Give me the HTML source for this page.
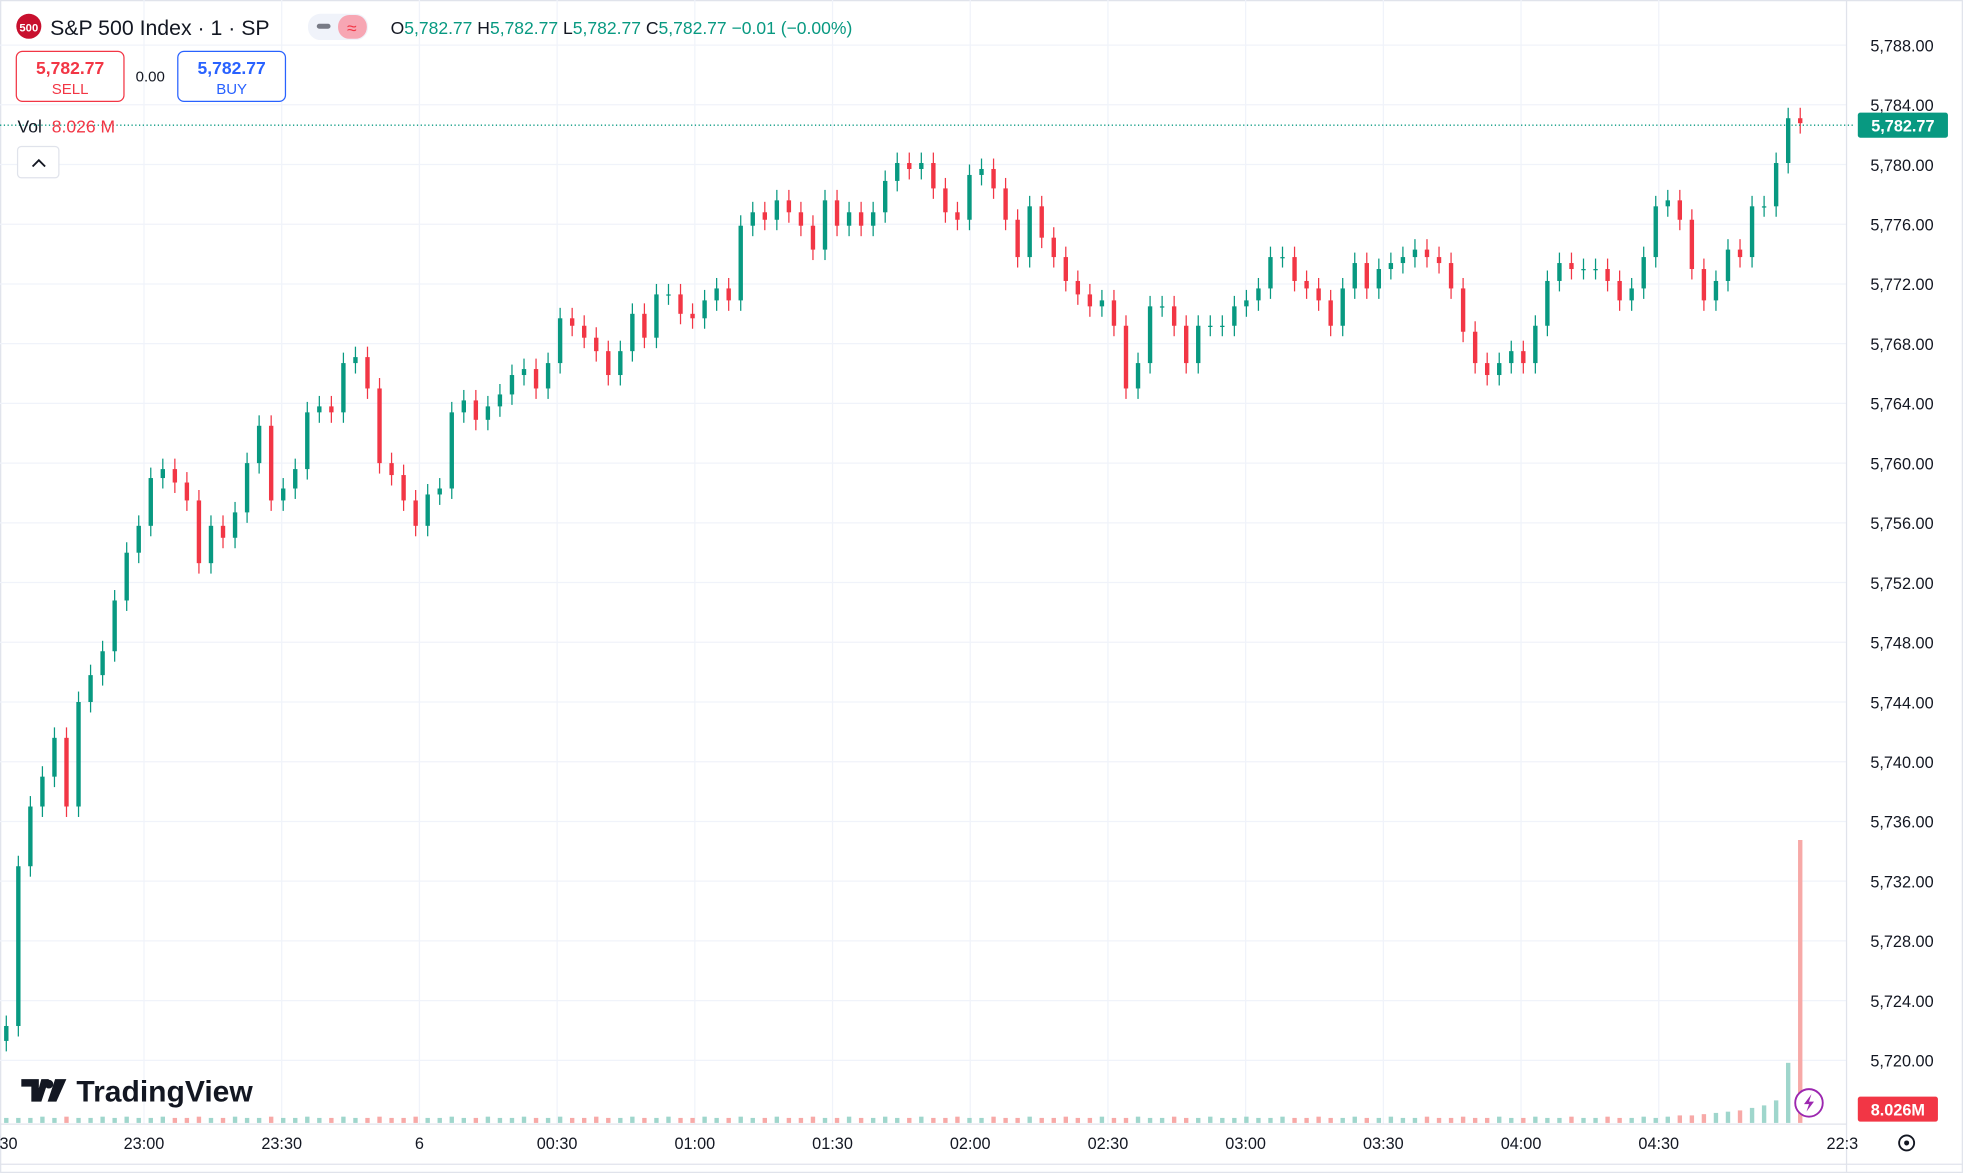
<!DOCTYPE html>
<html><head><meta charset="utf-8"><style>
html,body{margin:0;padding:0;background:#fff;}
svg{display:block;font-family:"Liberation Sans",sans-serif;}
</style></head><body>
<svg id="chart" width="1963" height="1173" viewBox="0 0 1568 937" xmlns="http://www.w3.org/2000/svg">
<rect x="0" y="0" width="1568" height="937" fill="#fff"/>
<rect x="0.5" y="0.5" width="1567" height="936" fill="none" stroke="#e0e3eb"/>
<g id="grid"></g>
<g id="vol"></g>
<g id="candles"></g>
<line x1="0" y1="898" x2="1475" y2="898" stroke="#e0e3eb"/>
<line x1="1475" y1="0" x2="1475" y2="937" stroke="#e0e3eb"/>
<line x1="0" y1="930" x2="1568" y2="930" stroke="#e0e3eb"/>
<g id="yaxis" font-size="13" fill="#131722"></g>
<g id="xaxis" font-size="13" fill="#131722"></g>
<line x1="0" y1="100" x2="1480" y2="100" stroke="#089981" stroke-dasharray="1,2"/>
<rect x="1484" y="90" width="72" height="20" rx="2" fill="#089981"/>
<text x="1520" y="105" font-size="13" fill="#fff" text-anchor="middle" font-weight="bold">5,782.77</text>
<rect x="1484" y="876" width="64" height="20" rx="2" fill="#f23645"/>
<text x="1516" y="891" font-size="13" fill="#fff" text-anchor="middle" font-weight="bold">8.026M</text>
<circle cx="23" cy="21" r="10" fill="#c8102e"/>
<text x="23" y="25" font-size="9" fill="#fff" text-anchor="middle" font-weight="bold">500</text>
<text x="40" y="28" font-size="17" fill="#131722">S&amp;P 500 Index · 1 · SP</text>
<rect x="246" y="11" width="48" height="21" rx="10" fill="#f0f3fa"/>
<rect x="253" y="19" width="11" height="4" rx="2" fill="#787b86"/>
<rect x="270" y="12" width="23" height="19" rx="9" fill="#f7a6b3"/>
<text x="281" y="27" font-size="14" fill="#f23645" text-anchor="middle">≈</text>
<text x="312" y="27" font-size="14" fill="#089981"><tspan fill="#131722">O</tspan>5,782.77 <tspan fill="#131722">H</tspan>5,782.77 <tspan fill="#131722">L</tspan>5,782.77 <tspan fill="#131722">C</tspan>5,782.77 −0.01 (−0.00%)</text>
<g><rect x="13" y="41" width="86" height="40" rx="5" fill="#fff" stroke="#f23645"/>
<text x="56" y="59" font-size="14" fill="#f23645" text-anchor="middle" font-weight="bold">5,782.77</text>
<text x="56" y="75" font-size="12" fill="#f23645" text-anchor="middle">SELL</text></g>
<text x="120" y="65" font-size="12" fill="#131722" text-anchor="middle">0.00</text>
<g><rect x="142" y="41" width="86" height="40" rx="5" fill="#fff" stroke="#2962ff"/>
<text x="185" y="59" font-size="14" fill="#2962ff" text-anchor="middle" font-weight="bold">5,782.77</text>
<text x="185" y="75" font-size="12" fill="#2962ff" text-anchor="middle">BUY</text></g>
<text x="14" y="106" font-size="14" fill="#131722">Vol <tspan fill="#f23645" dx="4">8.026 M</tspan></text>
<g><rect x="14" y="117" width="33" height="25" rx="3" fill="#fff" stroke="#e0e3eb"/>
<path d="M26 133 L31 128 L36 133" fill="none" stroke="#131722" stroke-width="1.5"/></g>
<g>
<path d="M17 862 h14 v18 h-6 v-12 h-8z M33 862 h6 l-6 18 h-5z" fill="#131722"/>
<circle cx="39" cy="866" r="3.5" fill="#131722"/>
<path d="M44 862 h9 l-8 18 h-7z" fill="#131722"/>
<text x="61" y="880" font-size="24" font-weight="bold" fill="#131722">TradingView</text></g>
<g><circle cx="1445" cy="881" r="11" fill="#fff" stroke="#9c27b0" stroke-width="1.5"/>
<path d="M1447 874 l-6 8 h4 l-2 6 l6 -8 h-4z" fill="#9c27b0"/></g>
<g><circle cx="1523" cy="913" r="6" fill="none" stroke="#131722" stroke-width="1.5"/><circle cx="1523" cy="913" r="2" fill="#131722"/></g>
</svg>
<script>
const priceTicks=[5788,5784,5780,5776,5772,5768,5764,5760,5756,5752,5748,5744,5740,5736,5732,5728,5724,5720];
const timeLabels=[":30","23:00","23:30","6","00:30","01:00","01:30","02:00","02:30","03:00","03:30","04:00","04:30","22:3"];
const timeMinutes=[0,30,60,90,120,150,180,210,240,270,300,330,360,400];
const closes=[5722.3,5733,5737,5739,5741.6,5737,5744,5745.8,5747.4,5750.8,5754,5755.8,5759,5759.6,5758.7,5757.5,5753.3,5755.8,5755,5756.7,5760,5762.5,5757.5,5758.3,5759.6,5763.4,5763.8,5763.4,5766.7,5767.1,5765,5760,5759.2,5757.5,5755.8,5757.9,5758.3,5763.4,5764.2,5762.9,5763.8,5764.6,5765.9,5766.3,5765,5766.7,5769.7,5769.2,5768.4,5767.5,5765.9,5767.5,5770,5768.4,5771.3,5771.3,5770,5769.7,5770.9,5771.7,5770.9,5775.9,5776.8,5776.3,5777.6,5776.8,5775.9,5774.3,5777.6,5775.9,5776.8,5775.9,5776.8,5778.9,5780.1,5779.7,5780.1,5778.4,5776.8,5776.3,5779.3,5779.7,5778.4,5776.3,5773.8,5777.2,5775.1,5773.8,5772.2,5771.3,5770.5,5770.9,5769.2,5765,5766.7,5770.5,5770.5,5769.2,5766.7,5769.2,5769.2,5769.2,5770.5,5770.9,5771.7,5773.8,5773.8,5772.2,5771.7,5770.9,5769.2,5771.7,5773.4,5771.7,5773,5773.4,5773.8,5774.3,5773.8,5773.4,5771.7,5768.8,5766.7,5765.9,5766.7,5767.5,5766.7,5769.2,5772.2,5773.4,5773,5773,5773,5772.2,5770.9,5771.7,5773.8,5777.2,5777.6,5776.3,5773,5770.9,5772.2,5774.3,5773.8,5777.2,5777.2,5780.1,5783.1,5782.77];
const volumes=[4,5,4,5,4,4,5,4,5,4,4,5,4,4,5,4,4,5,4,4,5,4,4,5,4,4,5,4,4,5,4,4,5,4,4,5,4,4,5,4,4,5,4,4,5,4,4,5,4,4,5,4,4,5,4,4,5,4,4,5,4,4,5,4,4,5,4,4,5,4,4,5,4,4,5,4,4,5,4,4,5,4,4,5,4,4,5,4,4,5,4,4,5,4,4,5,4,4,5,4,4,5,4,4,5,4,4,5,4,4,5,4,4,5,4,4,5,4,4,5,4,4,5,4,4,5,4,4,5,4,4,5,4,4,5,4,5,6,6,7,8,9,10,12,14,18,48,226];
const NS="http://www.w3.org/2000/svg";
const y=p=>36+(5788-p)*(811/68);
const xT=m=>5+m*(110/30);
const xC=i=>5+i*(1433/(closes.length-1));
const yV=v=>897-v;
function mk(t,a,parent){const e=document.createElementNS(NS,t);for(const k in a)e.setAttribute(k,a[k]);parent.appendChild(e);return e;}
const grid=document.getElementById('grid'),ya=document.getElementById('yaxis'),xa=document.getElementById('xaxis');
priceTicks.forEach(p=>{
 const l=mk('line',{x1:0,x2:1475,y1:y(p),y2:y(p),stroke:'#f0f3fa'},grid);
 
 
 const t=mk('text',{x:1494,y:y(p)+5},ya);t.textContent=p.toLocaleString('en-US',{minimumFractionDigits:2});
 
 
});
timeLabels.forEach((s,i)=>{
 const x=xT(timeMinutes[i]);
 if(i>0&&i<timeLabels.length-1){const l=mk('line',{x1:x,x2:x,y1:0,y2:898,stroke:'#f0f3fa'},grid);
 
 }
 const t=mk('text',{x:x,y:918,'text-anchor':'middle'},xa);t.textContent=s;
 
 
});
const cg=document.getElementById('candles'),vg=document.getElementById('vol');
const vOff=volumes.length-closes.length;
closes.forEach((c,i)=>{
 const o=i?closes[i-1]:c-1;const up=c>=o;const col=up?'#089981':'#f23645';
 const x=xC(i);
 const w=mk('line',{x1:x,x2:x,y1:y(Math.max(o,c)+0.7),y2:y(Math.min(o,c)-0.7),stroke:col,'stroke-width':1},cg);
 
 
 const b=mk('rect',{x:x-1.75,y:y(Math.max(o,c)),width:3.5,height:Math.max(1,y(Math.min(o,c))-y(Math.max(o,c))),fill:col},cg);
 
 
 const v=volumes[i+vOff]||4;
 const vb=mk('rect',{x:x-1.75,y:yV(v),width:3.5,height:v,fill:up?'#9fd6cc':'#f7a9a7'},vg);
 
 
});
</script>
</body></html>
